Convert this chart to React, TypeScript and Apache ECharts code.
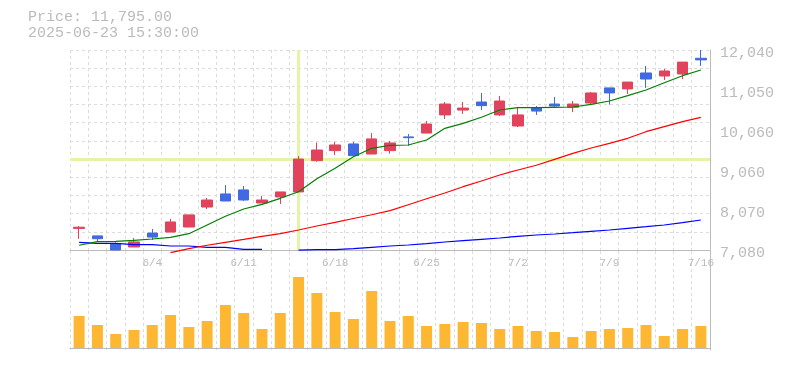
import React, { useEffect, useRef } from "react";
import * as echarts from "echarts";

const dates = [
  "5/29", "5/30", "6/2", "6/3", "6/4", "6/5", "6/6", "6/9", "6/10", "6/11",
  "6/12", "6/13", "6/16", "6/17", "6/18", "6/19", "6/20", "6/23", "6/24", "6/25",
  "6/26", "6/27", "6/30", "7/1", "7/2", "7/3", "7/4", "7/7", "7/8", "7/9",
  "7/10", "7/11", "7/14", "7/15", "7/16",
];

// [open, close, low, high]
const ohlc = [
  [7615, 7645, 7355, 7675],
  [7430, 7360, 7290, 7430],
  [7230, 7080, 7080, 7265],
  [7155, 7280, 7155, 7375],
  [7500, 7400, 7330, 7600],
  [7525, 7775, 7520, 7850],
  [7650, 7950, 7650, 7950],
  [8145, 8320, 8095, 8370],
  [8470, 8295, 8295, 8690],
  [8570, 8320, 8295, 8665],
  [8245, 8320, 8245, 8420],
  [8395, 8520, 8220, 8520],
  [8520, 9335, 8520, 9410],
  [9295, 9560, 9270, 9745],
  [9545, 9685, 9435, 9760],
  [9710, 9420, 9420, 9760],
  [9460, 9835, 9460, 9980],
  [9545, 9735, 9470, 9785],
  [9885, 9865, 9665, 9955],
  [9980, 10205, 9980, 10280],
  [10430, 10700, 10330, 10750],
  [10550, 10600, 10455, 10750],
  [10750, 10660, 10550, 10975],
  [10430, 10775, 10405, 10900],
  [10155, 10430, 10130, 10610],
  [10600, 10525, 10430, 10650],
  [10700, 10650, 10620, 10875],
  [10620, 10700, 10500, 10775],
  [10725, 10975, 10675, 11000],
  [11100, 10975, 10685, 11100],
  [11075, 11245, 10950, 11245],
  [11470, 11320, 11100, 11645],
  [11395, 11520, 11295, 11570],
  [11445, 11740, 11320, 11740],
  [11835, 11795, 11645, 12040],
];

const volumes = [
  960000, 690000, 420000, 540000, 690000, 990000, 630000, 810000, 1290000, 1050000,
  570000, 1050000, 2130000, 1650000, 1080000, 870000, 1710000, 810000, 960000, 660000,
  720000, 780000, 750000, 570000, 660000, 510000, 480000, 330000, 510000, 570000,
  600000, 690000, 360000, 570000, 660000,
];

const maGreen = [
  7197, 7286, 7296, 7321, 7353, 7395, 7484, 7700, 7916, 8097,
  8213, 8362, 8526, 8846, 9106, 9394, 9602, 9677, 9684, 9808,
  10098, 10222, 10371, 10552, 10609, 10609, 10619, 10626, 10693, 10775,
  10907, 11048, 11229, 11403, 11544,
];

const maRed = [
  null, null, null, null, null, 7013, 7112, 7197, 7271, 7345,
  7420, 7484, 7576, 7675, 7767, 7861, 7955, 8055, 8203, 8352,
  8494, 8650, 8791, 8940, 9064, 9181, 9329, 9478, 9610, 9726,
  9850, 10014, 10138, 10262, 10371,
];

const maBlue = [
  7271, 7246, 7246, 7211, 7211, 7179, 7179, 7147, 7147, 7097,
  7097, null, 7075, 7087, 7087, 7112, 7147, 7179, 7204, 7236,
  7278, 7311, 7345, 7378, 7420, 7452, 7477, 7509, 7544, 7576,
  7618, 7658, 7700, 7757, 7824,
];

const yTickLabels = ["7,080", "8,070", "9,060", "10,060", "11,050", "12,040"];
const priceMin = 7080;
const priceMax = 12040;
const titleLines = ["Price: 11,795.00", "2025-06-23 15:30:00"];
const crossIndex = 12;

const UP = "#e2435c";
const DOWN = "#4169e1";
const FONT = "'Liberation Mono', monospace";
const GRAY = "#bbbbbb";
const GRID_LINE = "#dcdcdc";

export default function App() {
  const ref = useRef<HTMLDivElement>(null);

  useEffect(() => {
    if (!ref.current) return;
    const chart = echarts.init(ref.current, undefined, { renderer: "svg" });
    const interval = (priceMax - priceMin) / 5;
    const volUnit = 30000;
    const volMin = -2 * volUnit;
    const volMax = volMin + 99 * volUnit;

    chart.setOption({
      animation: false,
      textStyle: { fontFamily: FONT },
      graphic: titleLines.map((t, i) => ({
        type: "text",
        left: 28,
        top: 10 + i * 16,
        style: { text: t, fill: GRAY, font: `15px ${FONT}` },
      })),
      grid: [
        { left: 70, right: 75, top: 50, height: 200 },
        { left: 70, right: 75, top: 251, bottom: 20 },
      ],
      xAxis: [
        {
          type: "category",
          gridIndex: 0,
          data: dates,
          boundaryGap: true,
          axisLine: { show: true, lineStyle: { color: GRAY } },
          axisTick: { show: false },
          axisLabel: {
            color: GRAY,
            fontFamily: FONT,
            fontSize: 11,
            margin: 7,
            interval: (i: number) => i % 5 === 4,
          },
          splitLine: {
            show: true,
            interval: 0,
            lineStyle: { color: GRID_LINE, type: [3, 3] },
          },
        },
        {
          type: "category",
          gridIndex: 1,
          data: dates,
          boundaryGap: true,
          axisLine: { show: true, lineStyle: { color: GRAY } },
          axisTick: { show: false },
          axisLabel: { show: false },
          splitLine: {
            show: true,
            interval: 0,
            lineStyle: { color: GRID_LINE, type: [3, 3] },
          },
        },
      ],
      yAxis: [
        {
          type: "value",
          gridIndex: 0,
          position: "right",
          min: priceMin,
          max: priceMax,
          interval,
          axisLine: { show: true, lineStyle: { color: GRAY } },
          axisTick: { show: false },
          splitLine: { show: false },
          axisLabel: {
            color: GRAY,
            fontFamily: FONT,
            fontSize: 15,
            margin: 10,
            verticalAlign: "top",
            lineHeight: 6,
            formatter: (v: number) =>
              yTickLabels[Math.round((v - priceMin) / interval)] ?? "",
          },
        },
        {
          type: "value",
          gridIndex: 0,
          position: "left",
          min: 0,
          max: 11,
          interval: 1,
          axisLine: { show: false },
          axisTick: { show: false },
          axisLabel: { show: false },
          splitLine: {
            show: true,
            lineStyle: { color: GRID_LINE, type: [3, 3] },
          },
        },
        {
          type: "value",
          gridIndex: 1,
          position: "right",
          min: volMin,
          max: volMax,
          axisLine: { show: true, lineStyle: { color: GRAY } },
          axisTick: { show: false },
          axisLabel: { show: false },
          splitLine: { show: false },
        },
      ],
      series: [
        {
          type: "line",
          xAxisIndex: 0,
          yAxisIndex: 0,
          data: [],
          z: 1,
          silent: true,
          markLine: {
            z: 1,
            silent: true,
            symbol: ["none", "none"],
            label: { show: false },
            lineStyle: { color: "#e2f5a6", width: 3, type: "solid" },
            data: [
              { xAxis: dates[crossIndex] },
              { yAxis: ohlc[crossIndex][1] },
            ],
          },
        },
        {
          type: "candlestick",
          xAxisIndex: 0,
          yAxisIndex: 0,
          data: ohlc,
          barWidth: 11,
          z: 3,
          itemStyle: {
            color: UP,
            color0: DOWN,
            borderColor: UP,
            borderColor0: DOWN,
            borderWidth: 1,
          },
        },
        {
          type: "line",
          xAxisIndex: 0,
          yAxisIndex: 0,
          data: maBlue,
          showSymbol: false,
          clip: false,
          z: 4,
          lineStyle: { color: "#0000ff", width: 1.2 },
        },
        {
          type: "line",
          xAxisIndex: 0,
          yAxisIndex: 0,
          data: maRed,
          showSymbol: false,
          clip: false,
          z: 4,
          lineStyle: { color: "#ff0000", width: 1.2 },
        },
        {
          type: "line",
          xAxisIndex: 0,
          yAxisIndex: 0,
          data: maGreen,
          showSymbol: false,
          clip: false,
          z: 4,
          lineStyle: { color: "#008000", width: 1.2 },
        },
        {
          type: "bar",
          xAxisIndex: 1,
          yAxisIndex: 2,
          data: volumes,
          barWidth: 11,
          itemStyle: { color: "#fdb733" },
        },
      ],
    });

    return () => chart.dispose();
  }, []);

  return (
    <div
      ref={ref}
      style={{ position: "fixed", left: 0, top: 0, width: 785, height: 370 }}
    />
  );
}
